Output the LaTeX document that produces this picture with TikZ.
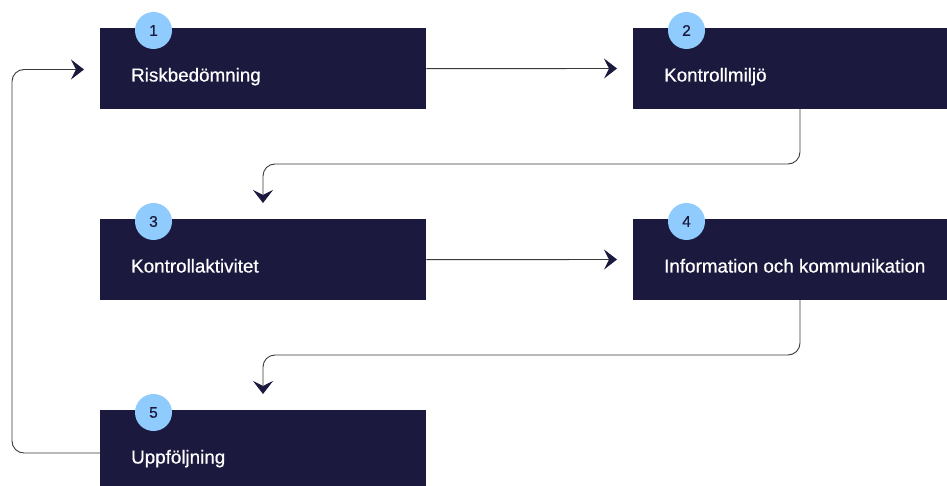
\documentclass[tikz,border=0pt]{standalone}
\usepackage{fontspec}
\setmainfont{Liberation Sans}
\newfontfamily\lblfont[FakeBold=0.6]{Liberation Sans}
\usetikzlibrary{arrows.meta,positioning}
\definecolor{navy}{HTML}{1B1A3E}
\definecolor{badgeblue}{HTML}{8FCBFC}
\definecolor{linegray}{HTML}{3A3A3A}
\tikzset{
  x=1pt,y=1pt,
  box/.style={fill=navy, draw=none, inner sep=0pt, anchor=north west, minimum height=81pt},
  lbl/.style={text=white, anchor=base west, inner sep=0pt, font=\lblfont\fontsize{18.8}{22}\selectfont},
  badge/.style={circle, fill=badgeblue, minimum size=37pt, inner sep=0pt, text=navy, font=\lblfont\fontsize{15.5}{18}\selectfont},
  conn/.style={draw=linegray, line width=0.9pt, rounded corners=12pt,
    -{Stealth[length=13pt,width=20pt,inset=5pt,color=navy]}},
}
\begin{document}
\begin{tikzpicture}
\useasboundingbox (0,0) rectangle (947,-486);
% boxes
\node[box, minimum width=326pt] (b1) at (100,-28) {};
\node[box, minimum width=314pt] (b2) at (633,-28) {};
\node[box, minimum width=326pt] (b3) at (100,-219) {};
\node[box, minimum width=314pt] (b4) at (633,-219) {};
\node[box, minimum width=326pt, minimum height=76pt] (b5) at (100,-410) {};
% labels
\node[lbl] (t1) at (131,-81.5) {Riskbedömning};
\node[lbl] (t2) at (664,-81.5) {Kontrollmiljö};
\node[lbl] (t3) at (131,-272.5) {Kontrollaktivitet};
\node[lbl] (t4) at (664,-272.5) {Information och kommunikation};
\node[lbl] (t5) at (131,-463.5) {Uppföljning};
% badges
\node[badge] (n1) at (153.5,-30.5) {1};
\node[badge] (n2) at (686.5,-30.5) {2};
\node[badge] (n3) at (153.5,-221.5) {3};
\node[badge] (n4) at (686.5,-221.5) {4};
\node[badge] (n5) at (153.5,-412.5) {5};
% connectors
\coordinate (e12) at (617,-68.5);
\coordinate (e23) at (263,-203);
\coordinate (e34) at (617,-259.5);
\coordinate (e45) at (263,-394);
\coordinate (e51) at (84,-69.5);
\coordinate (s2) at (800,-109);
\coordinate (s4) at (800,-300);
\coordinate (s5) at (100,-453);
\draw[conn] (b1.east) -- (e12);
\draw[conn] (s2) -- (800,-164) -| (e23);
\draw[conn] (b3.east) -- (e34);
\draw[conn] (s4) -- (800,-355) -| (e45);
\draw[conn] (s5) -- (12,-453) |- (e51);
\end{tikzpicture}
\end{document}
